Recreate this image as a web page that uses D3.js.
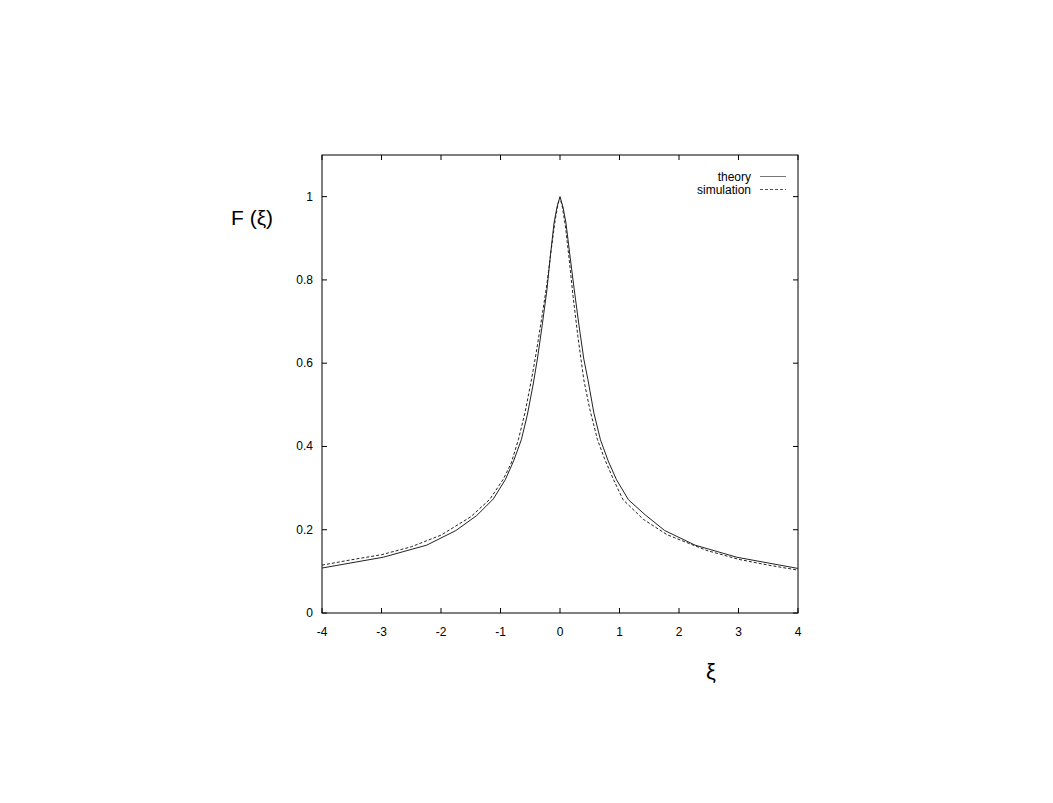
<!DOCTYPE html>
<html><head><meta charset="utf-8">
<script src="https://cdn.jsdelivr.net/npm/d3@7"></script>
<style>body{margin:0;background:#fff}svg{display:block}text{font-family:"Liberation Sans",Arial,sans-serif;fill:#000}</style>
</head><body><svg id="c" width="1053" height="803"></svg>
<script>
const theoryX = [-4,-2.97,-2.24,-1.75,-1.40,-1.12,-0.92,-0.78,-0.65,-0.55,-0.45,-0.38,-0.30,-0.22,-0.16,-0.10,-0.05,0,0.05,0.10,0.17,0.24,0.32,0.40,0.47,0.57,0.68,0.81,0.95,1.15,1.43,1.76,2.27,2.97,4];
const theoryY = [0.108,0.134,0.163,0.198,0.234,0.274,0.32,0.365,0.416,0.475,0.55,0.61,0.69,0.776,0.86,0.937,0.975,1.0,0.975,0.937,0.855,0.776,0.69,0.61,0.56,0.48,0.416,0.365,0.32,0.272,0.236,0.198,0.163,0.134,0.107];
const simX = [-4,-3.5,-3,-2.5,-2,-1.5,-1.18,-0.95,-0.82,-0.70,-0.59,-0.48,-0.40,-0.30,-0.22,-0.15,-0.08,-0.03,0,0.04,0.09,0.15,0.22,0.30,0.40,0.50,0.63,0.75,0.90,1.06,1.4,1.8,2.47,3,3.5,4];
const simY = [0.115,0.128,0.140,0.159,0.187,0.231,0.273,0.322,0.36,0.416,0.48,0.56,0.625,0.715,0.79,0.87,0.945,0.985,0.998,0.975,0.93,0.855,0.76,0.665,0.56,0.49,0.416,0.37,0.32,0.272,0.225,0.188,0.150,0.129,0.115,0.103];
const xTicks = [-4,-3,-2,-1,0,1,2,3,4];
const yTicks = [0,0.2,0.4,0.6,0.8,1];
const seriesNames = ["theory","simulation"];

const svg = d3.select("#c");
const L=322,R=798,T=155,B=613;
const x = d3.scaleLinear().domain([-4,4]).range([L,R]);
const y = d3.scaleLinear().domain([0,1.1]).range([B,T]);
const tl=5;
const g = svg.append("g");
xTicks.forEach(v=>{
  g.append("line").attr("x1",x(v)).attr("x2",x(v)).attr("y1",B).attr("y2",B-tl).attr("stroke","#000");
  g.append("line").attr("x1",x(v)).attr("x2",x(v)).attr("y1",T).attr("y2",T+tl).attr("stroke","#000");
  g.append("text").attr("x",x(v)).attr("y",B+23).attr("text-anchor","middle").attr("font-size",12).text(v);
});
yTicks.forEach(v=>{
  g.append("line").attr("x1",L).attr("x2",L+tl).attr("y1",y(v)).attr("y2",y(v)).attr("stroke","#000");
  g.append("line").attr("x1",R).attr("x2",R-tl).attr("y1",y(v)).attr("y2",y(v)).attr("stroke","#000");
  g.append("text").attr("x",L-9).attr("y",y(v)+4).attr("text-anchor","end").attr("font-size",12).text(v);
});
g.append("rect").attr("x",L).attr("y",T).attr("width",R-L).attr("height",B-T).attr("fill","none").attr("stroke","#000").attr("stroke-width",1);

const line = d3.line().x(d=>x(d[0])).y(d=>y(d[1]));
const th = theoryX.map((v,i)=>[v,theoryY[i]]);
const sm = simX.map((v,i)=>[v,simY[i]]);
svg.append("path").attr("d",line(th)).attr("fill","none").attr("stroke","#222").attr("stroke-width",1);
svg.append("path").attr("d",line(sm)).attr("fill","none").attr("stroke","#222").attr("stroke-width",1).attr("stroke-dasharray","3,2");

svg.append("text").attr("x",751).attr("y",181).attr("text-anchor","end").attr("font-size",12).text(seriesNames[0]);
svg.append("line").attr("x1",760).attr("x2",786).attr("y1",176.5).attr("y2",176.5).attr("stroke","#777");
svg.append("text").attr("x",751).attr("y",194).attr("text-anchor","end").attr("font-size",12).text(seriesNames[1]);
svg.append("line").attr("x1",760).attr("x2",786).attr("y1",189.5).attr("y2",189.5).attr("stroke","#555").attr("stroke-dasharray","3,2");

svg.append("text").attr("x",231).attr("y",225).attr("font-size",21).text("F (ξ)");
svg.append("text").attr("x",711).attr("y",679).attr("text-anchor","middle").attr("font-size",22).text("ξ");
</script></body></html>
